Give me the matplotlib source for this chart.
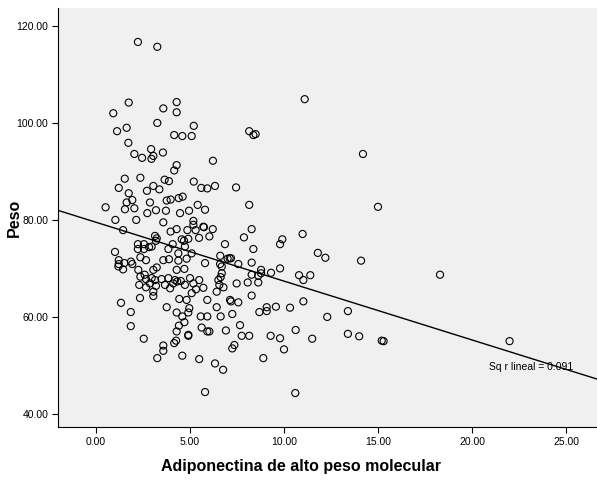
import numpy as np
import matplotlib
matplotlib.use("Agg")
import matplotlib.pyplot as plt

# Adiponectina de alto peso molecular (x) and Peso (y)
adiponectina = [
    2.23, 3.26, 1.74, 0.92, 1.63, 1.12, 4.29, 3.58, 4.29, 3.26, 5.20,
    1.72, 2.04, 2.45, 2.93, 3.05, 2.95, 1.53, 2.36, 1.21, 1.74, 2.71, 1.93, 1.63, 2.87,
    0.51, 1.54, 2.04,
    4.16, 4.59, 5.09, 3.56, 4.29, 4.16, 6.22, 3.65, 3.88, 5.20, 5.60, 5.92, 6.33, 3.05,
    3.37, 3.76, 3.97, 4.40, 4.61, 3.19, 3.72, 4.95, 5.41, 5.80,
    8.15, 8.37, 8.49, 7.45, 8.15,
    2.73, 1.03, 2.14, 1.44, 1.01, 2.23, 2.55, 2.23, 2.55, 2.82, 2.36, 2.66, 1.21, 1.21,
    1.51, 1.86, 1.93, 1.19, 1.44, 2.25, 2.59, 2.36, 2.66, 2.30, 2.66,
    4.47, 3.58, 5.18, 5.18, 5.71, 5.74, 6.21, 4.29, 3.97, 4.86, 5.30, 3.14, 3.23, 3.19,
    2.96, 4.56, 4.68, 4.91, 5.48, 6.03, 6.86, 4.08, 4.73, 3.85, 4.38, 5.09, 4.82, 3.58,
    3.88, 4.38, 5.80, 6.61, 6.60, 3.23, 3.05, 4.29, 4.70, 6.69, 6.69, 2.96, 3.14, 3.49,
    3.85, 4.20, 4.51, 5.00, 5.49, 6.51, 6.63, 2.87, 3.19, 3.67, 4.11, 4.32, 4.73, 5.18,
    5.71, 6.56, 6.78, 3.94, 5.32,
    8.28, 7.87, 9.91, 9.79, 10.99, 8.37, 7.00, 7.11, 7.18, 7.57, 8.28, 8.78, 8.78, 9.31,
    9.79, 8.28, 8.63, 10.80, 11.03, 7.48, 8.07, 8.63,
    2.34, 1.33, 1.85, 1.85, 2.54,
    3.05, 3.05, 5.09, 6.42, 4.43, 4.82, 5.92, 3.76, 4.29, 4.96, 4.91, 6.42, 4.59, 5.57,
    5.92, 6.63, 4.70, 4.41, 5.62, 5.92, 6.03, 6.91, 4.29, 4.91, 4.91, 4.26, 4.16, 3.58,
    3.58, 3.26, 4.59, 5.49, 6.33, 6.76,
    8.28, 7.13, 7.18, 7.57, 11.03, 7.25, 8.69, 9.08, 9.08, 9.57, 10.32, 7.66, 7.75, 8.15,
    9.29, 9.79, 10.62, 7.36, 7.25, 10.00, 8.90,
    5.80, 10.60,
    11.1, 14.2, 15.0, 11.8, 12.2, 14.1, 11.4, 12.3, 13.4, 13.4, 14.0, 15.2, 15.3, 11.5,
    18.3, 22.0,
]
peso = [
    116.7, 115.7, 104.2, 102.0, 99.0, 98.3, 104.3, 103.0, 102.2, 100.0, 99.4,
    95.9, 93.6, 92.8, 94.6, 93.2, 92.6, 88.5, 88.7, 86.6, 85.5, 86.0, 84.1, 83.6, 83.6,
    82.6, 82.2, 82.4,
    97.5, 97.3, 97.3, 93.9, 91.3, 90.2, 92.2, 88.3, 88.0, 87.9, 86.6, 86.5, 87.0, 87.0,
    86.3, 84.0, 84.2, 84.5, 84.8, 82.0, 81.9, 81.9, 83.1, 82.1,
    98.3, 97.5, 97.7, 86.7, 83.1,
    81.4, 80.0, 80.0, 77.9, 73.4, 75.0, 75.0, 74.0, 74.0, 74.4, 72.3, 71.7, 71.7, 70.9,
    71.1, 71.4, 70.9, 70.4, 69.8, 69.7, 68.7, 68.3, 67.8, 66.6, 66.1,
    81.4, 79.5, 79.8, 79.0, 78.6, 78.5, 78.1, 78.1, 77.6, 77.9, 77.9, 76.7, 76.2, 75.7,
    74.5, 76.0, 75.7, 76.1, 76.3, 76.6, 75.0, 75.0, 74.5, 74.0, 73.1, 73.1, 72.0, 71.7,
    71.9, 71.6, 71.1, 72.6, 70.9, 70.2, 69.7, 69.7, 69.9, 70.4, 69.0, 68.0, 67.6, 67.8,
    68.0, 67.6, 67.4, 68.0, 67.6, 67.6, 68.2, 66.9, 66.4, 66.6, 66.9, 67.3, 66.6, 66.9,
    66.0, 66.6, 66.1, 65.9, 65.7,
    78.1, 76.4, 76.0, 75.0, 77.1, 74.0, 72.0, 72.1, 72.1, 70.9, 71.2, 69.7, 69.0, 69.1,
    70.0, 68.7, 68.5, 68.6, 67.6, 66.9, 67.1, 67.1,
    63.9, 62.9, 61.0, 58.1, 55.5,
    64.3, 65.2, 64.9, 65.2, 63.7, 63.5, 63.5, 62.0, 60.9, 61.8, 60.9, 62.0, 60.1, 60.1,
    60.1, 60.1, 58.9, 58.2, 57.8, 57.0, 57.0, 57.2, 57.0, 56.1, 56.3, 55.1, 54.6, 54.1,
    53.0, 51.5, 52.0, 51.3, 50.4, 49.1,
    64.4, 63.5, 63.2, 63.0, 63.2, 60.6, 61.0, 62.0, 61.2, 62.1, 61.9, 58.3, 56.1, 56.1,
    56.1, 55.6, 57.3, 54.2, 53.5, 53.3, 51.5,
    44.5, 44.3,
    104.9, 93.6, 82.7, 73.2, 72.2, 71.6, 68.6, 60.0, 61.2, 56.5, 56.0, 55.1, 55.0, 55.5,
    68.7, 55.0,
]

x_ticks = [0, 5, 10, 15, 20, 25]
y_ticks = [40, 60, 80, 100, 120]
r2_label = "Sq r lineal = 0.091"

plt.rcParams['font.family'] = ['Liberation Sans', 'DejaVu Sans']

fig = plt.figure(figsize=(5.97, 4.83), dpi=100)
ax = fig.add_axes([0.0972, 0.116, 0.9028, 0.8674])
ax.set_facecolor('#f0f0f0')

x = np.array(adiponectina)
y = np.array(peso)
ax.scatter(x, y, s=26, facecolors='none', edgecolors='black', linewidths=0.8, zorder=3)

xlim = (-2.02, 26.65)
ylim = (37.3, 123.7)
ax.set_xlim(*xlim)
ax.set_ylim(*ylim)

slope, intercept = np.polyfit(x, y, 1)
xs = np.array(xlim)
ax.plot(xs, intercept + slope * xs, color='black', linewidth=1.0, zorder=2)

ax.text(20.9, 49.6, r2_label, fontsize=7.5, va='center', ha='left')

ax.set_xticks(x_ticks)
ax.set_xticklabels([f"{v:.2f}" for v in x_ticks])
ax.set_yticks(y_ticks)
ax.set_yticklabels([f"{v:.2f}" for v in y_ticks])
ax.tick_params(labelsize=7.5, length=4, width=0.8, direction='out', pad=3)

for s in ['top', 'right']:
    ax.spines[s].set_visible(False)
ax.spines['left'].set_linewidth(0.8)
ax.spines['bottom'].set_linewidth(0.8)

ax.set_xlabel('Adiponectina de alto peso molecular', fontsize=11.5, fontweight='bold')
ax.xaxis.set_label_coords(0.45, -0.077)
ax.set_ylabel('Peso', fontsize=11.5, fontweight='bold')
ax.yaxis.set_label_coords(-0.067, 0.5)

fig.savefig('out.png', dpi=100, facecolor='white')
